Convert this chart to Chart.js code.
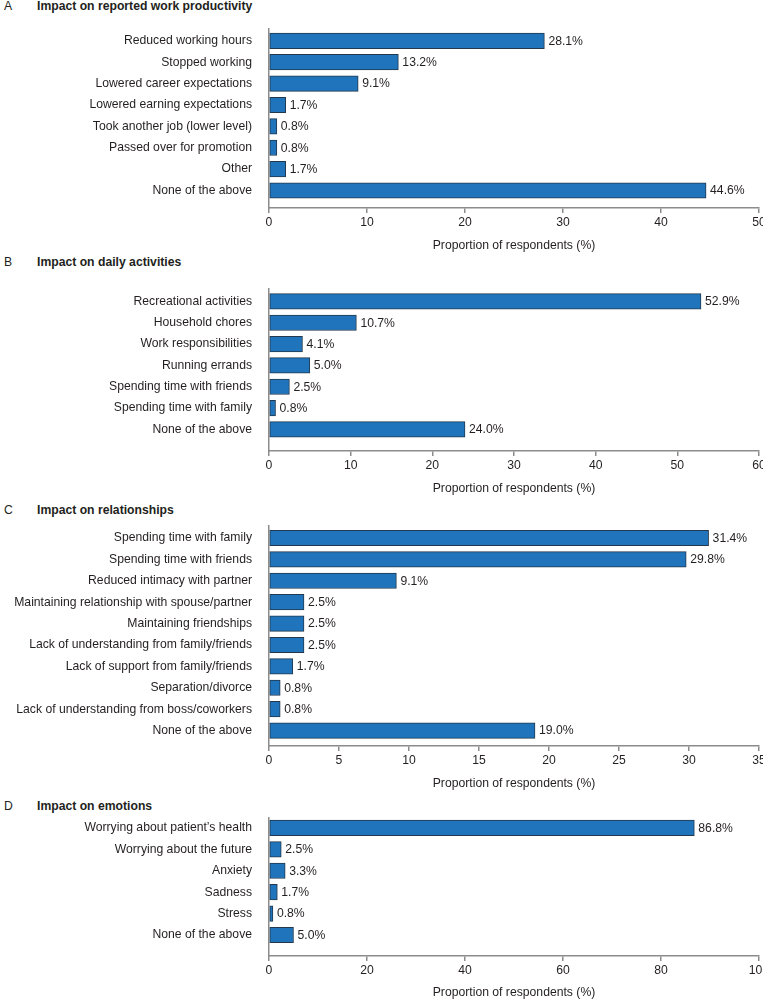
<!DOCTYPE html>
<html lang="en">
<head>
  <meta charset="UTF-8" />
  <title>Impact on caregivers</title>
  <script src="https://cdn.jsdelivr.net/npm/chart.js"></script>
  <style>
    html, body {
      margin: 0;
      padding: 0;
      background: #ffffff;
    }
    body {
      position: relative;
      width: 763px;
      height: 1000px;
      overflow: hidden;
      font-family: "Liberation Sans", Arial, sans-serif;
      color: #231f20;
    }
    .letter, .title {
      position: absolute;
      font-size: 12.2px;
      line-height: 14px;
      white-space: nowrap;
    }
    .letter { left: 4px; }
    .title { left: 37px; font-weight: bold; }
    canvas {
      position: absolute;
      left: 0;
    }
  </style>
</head>
<body>

<div class="letter" style="top: -1px;">A</div>
<div class="title" style="top: -1px;">Impact on reported work productivity</div>
<canvas id="chartA" width="763" height="225" style="top: 28px;"></canvas>

<div class="letter" style="top: 255px;">B</div>
<div class="title" style="top: 255px;">Impact on daily activities</div>
<canvas id="chartB" width="763" height="208" style="top: 288px;"></canvas>

<div class="letter" style="top: 503px;">C</div>
<div class="title" style="top: 503px;">Impact on relationships</div>
<canvas id="chartC" width="763" height="266" style="top: 525px;"></canvas>

<div class="letter" style="top: 799px;">D</div>
<div class="title" style="top: 799px;">Impact on emotions</div>
<canvas id="chartD" width="763" height="183" style="top: 817px;"></canvas>

<script>
  // A - work productivity
  const workLabels = [
    'Reduced working hours', 'Stopped working', 'Lowered career expectations',
    'Lowered earning expectations', 'Took another job (lower level)',
    'Passed over for promotion', 'Other', 'None of the above'
  ];
  const workValues = [28.1, 13.2, 9.1, 1.7, 0.8, 0.8, 1.7, 44.6];

  // B - daily activities
  const dailyLabels = [
    'Recreational activities', 'Household chores', 'Work responsibilities',
    'Running errands', 'Spending time with friends', 'Spending time with family',
    'None of the above'
  ];
  const dailyValues = [52.9, 10.7, 4.1, 5.0, 2.5, 0.8, 24.0];

  // C - relationships
  const relLabels = [
    'Spending time with family', 'Spending time with friends',
    'Reduced intimacy with partner', 'Maintaining relationship with spouse/partner',
    'Maintaining friendships', 'Lack of understanding from family/friends',
    'Lack of support from family/friends', 'Separation/divorce',
    'Lack of understanding from boss/coworkers', 'None of the above'
  ];
  const relValues = [31.4, 29.8, 9.1, 2.5, 2.5, 2.5, 1.7, 0.8, 0.8, 19.0];

  // D - emotions
  const emoLabels = [
    'Worrying about patient\u2019s health', 'Worrying about the future',
    'Anxiety', 'Sadness', 'Stress', 'None of the above'
  ];
  const emoValues = [86.8, 2.5, 3.3, 1.7, 0.8, 5.0];

  // x axis ranges
  const xMaxes = [50, 60, 35, 100];
  const xSteps = [10, 10, 5, 20];
  const xTitle = 'Proportion of respondents (%)';

  const FONT = { family: "'Liberation Sans', Arial, sans-serif", size: 12.2 };
  const TEXT = '#231f20';
  const AXIS = '#8c8c8c';
  const BAR = '#1f74bb';
  const BAR_EDGE = '#23384d';

  // value labels at the end of each bar
  const valueLabels = {
    id: 'valueLabels',
    afterDatasetsDraw(chart) {
      const ctx = chart.ctx;
      const meta = chart.getDatasetMeta(0);
      const ds = chart.data.datasets[0];
      ctx.save();
      ctx.font = FONT.size + 'px ' + FONT.family;
      ctx.fillStyle = TEXT;
      ctx.textAlign = 'left';
      ctx.textBaseline = 'middle';
      meta.data.forEach((bar, i) => {
        ctx.fillText(ds.data[i].x.toFixed(1) + '%', bar.x + 4, bar.y + 0.5);
      });
      ctx.restore();
    }
  };

  function makeChart(id, labels, values, xMax, xStep, yMin, yMax, xHeight) {
    return new Chart(document.getElementById(id), {
      type: 'bar',
      data: {
        datasets: [{
          data: values.map((v, i) => ({ x: v, y: i })),
          backgroundColor: BAR,
          borderColor: BAR_EDGE,
          borderWidth: 1,
          borderSkipped: false,
          barThickness: 15.5
        }]
      },
      options: {
        indexAxis: 'y',
        responsive: false,
        animation: false,
        devicePixelRatio: 1,
        layout: { padding: { top: 0, left: 0, right: 4, bottom: 0 } },
        plugins: {
          legend: { display: false },
          tooltip: { enabled: false }
        },
        scales: {
          x: {
            type: 'linear',
            min: 0,
            max: xMax,
            ticks: { stepSize: xStep, color: TEXT, font: FONT, padding: 2, maxRotation: 0 },
            grid: { drawOnChartArea: false, drawTicks: true, tickLength: 5, color: AXIS, lineWidth: 1.5 },
            border: { color: AXIS, width: 1.5 },
            title: { display: true, text: xTitle, color: TEXT, font: FONT, padding: 0 },
            afterFit(s) {
              s.height = xHeight;
              s.paddingLeft = 0;
              s.paddingRight = 0;
            }
          },
          y: {
            type: 'linear',
            offset: false,
            reverse: true,
            min: yMin,
            max: yMax,
            afterBuildTicks(s) {
              s.ticks = labels.map((l, i) => ({ value: i }));
            },
            ticks: {
              autoSkip: false,
              color: TEXT,
              font: FONT,
              padding: 17,
              callback: (v) => labels[v]
            },
            grid: { display: false, drawTicks: false, offset: false },
            border: { color: AXIS, width: 1.5 },
            afterFit(s) {
              s.width = 269;
              s.paddingTop = 0;
              s.paddingBottom = 0;
            }
          }
        }
      },
      plugins: [valueLabels]
    });
  }

  makeChart('chartA', workLabels, workValues, xMaxes[0], xSteps[0], -0.6, 7.82, 45);
  makeChart('chartB', dailyLabels, dailyValues, xMaxes[1], xSteps[1], -0.63, 7.01, 45);
  makeChart('chartC', relLabels, relValues, xMaxes[2], xSteps[2], -0.607, 9.72, 45);
  makeChart('chartD', emoLabels, emoValues, xMaxes[3], xSteps[3], -0.51, 5.98, 44);
</script>

</body>
</html>
